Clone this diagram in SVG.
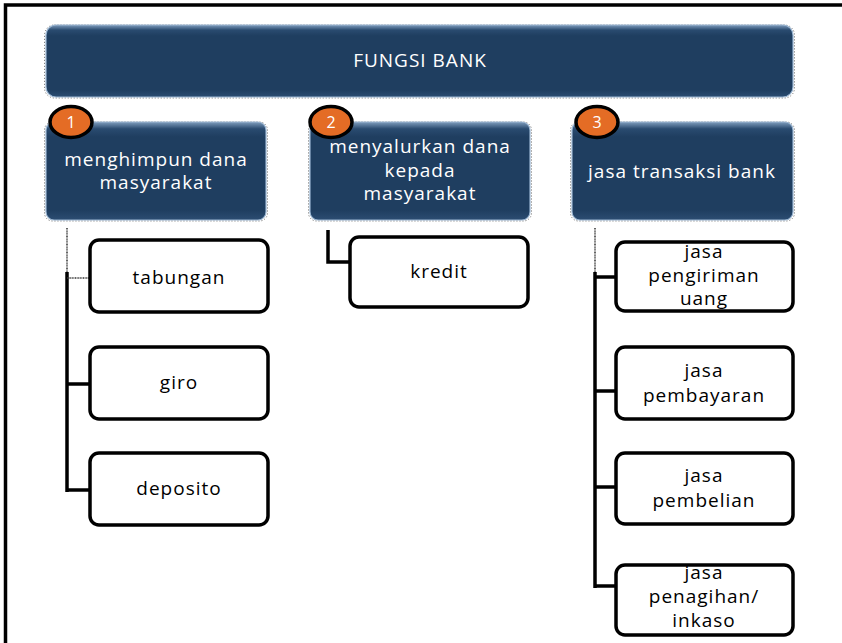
<svg xmlns="http://www.w3.org/2000/svg" width="842" height="643" viewBox="0 0 842 643">
<defs>
<linearGradient id="blueG" x1="0" y1="0" x2="0" y2="1">
<stop offset="0" stop-color="#7f9dbd"/>
<stop offset="0.07" stop-color="#2a4b70"/>
<stop offset="0.15" stop-color="#1f3e60"/>
<stop offset="0.9" stop-color="#1f3e60"/>
<stop offset="1" stop-color="#2c4d72"/>
</linearGradient>
<style>
.blue{fill:url(#blueG);stroke:#9bb6d2;stroke-width:1.2}
.dots{fill:none;stroke:#666;stroke-width:1;stroke-dasharray:1 2}
.wt{font-family:"Open Sans","Noto Sans","Liberation Sans",sans-serif;font-size:19px;fill:#ffffff;text-anchor:middle;letter-spacing:1px}
.badge{fill:#e46c25;stroke:#000;stroke-width:3.5}
.bn{font-family:"Open Sans","Noto Sans","Liberation Sans",sans-serif;font-size:16px;fill:#ffffff;text-anchor:middle}
.child{fill:#ffffff;stroke:#000;stroke-width:3.5}
.bt{font-family:"Open Sans","Noto Sans","Liberation Sans",sans-serif;font-size:19px;fill:#000;text-anchor:middle;letter-spacing:1px}
.conn{stroke:#000;stroke-width:3.5;fill:none}
.thin{stroke:#333;stroke-width:1.5;fill:none;stroke-dasharray:1 0.6}
</style>
</defs>
<rect x="0" y="0" width="842" height="643" fill="#ffffff"/>
<path d="M5.5 643 V5 H842" fill="none" stroke="#000" stroke-width="3.5"/>

<g id="connectors">
<path class="thin" d="M67 228 V272"/>
<path class="conn" d="M67 272 V492"/>
<path class="thin" d="M67 278 H90"/>
<path class="conn" d="M67 384 H90"/>
<path class="conn" d="M67 490 H90"/>
<path class="conn" d="M328 230 V262 H350"/>
<path class="thin" d="M595 228 V272"/>
<path class="conn" d="M595 272 V588"/>
<path class="conn" d="M595 277 H616"/>
<path class="conn" d="M595 391 H616"/>
<path class="conn" d="M595 487 H616"/>
<path class="conn" d="M595 586 H616"/>
</g>

<g id="fungsi-bank">
<rect class="dots" x="44.5" y="25" width="750" height="73" rx="10"/>
<rect class="blue" x="46" y="25" width="747" height="72" rx="10"/>
<text class="wt" x="420" y="67">FUNGSI BANK</text>
</g>

<g id="menghimpun">
<rect class="dots" x="44.5" y="122" width="223" height="99" rx="8"/>
<rect class="blue" x="46" y="122" width="220" height="98" rx="8"/>
<text class="wt" x="156" y="166">menghimpun dana</text>
<text class="wt" x="156" y="189">masyarakat</text>
<ellipse class="badge" cx="71" cy="122" rx="21" ry="15.5"/>
<text class="bn" x="71" y="128">1</text>
</g>

<g id="menyalurkan">
<rect class="dots" x="308.5" y="122" width="223" height="99" rx="8"/>
<rect class="blue" x="310" y="122" width="220" height="98" rx="8"/>
<text class="wt" x="420" y="153">menyalurkan dana</text>
<text class="wt" x="420" y="177">kepada</text>
<text class="wt" x="420" y="200">masyarakat</text>
<ellipse class="badge" cx="331" cy="122" rx="21" ry="15.5"/>
<text class="bn" x="331" y="128">2</text>
</g>

<g id="jasa-transaksi">
<rect class="dots" x="570.5" y="122" width="224" height="99" rx="8"/>
<rect class="blue" x="572" y="122" width="221" height="98" rx="8"/>
<text class="wt" x="682" y="178">jasa transaksi bank</text>
<ellipse class="badge" cx="597" cy="122" rx="21" ry="15.5"/>
<text class="bn" x="597" y="128">3</text>
</g>

<g id="tabungan">
<rect class="child" x="90" y="240" width="178" height="72" rx="9"/>
<text class="bt" x="179" y="284">tabungan</text>
</g>
<g id="giro">
<rect class="child" x="90" y="347" width="178" height="72" rx="9"/>
<text class="bt" x="179" y="389">giro</text>
</g>
<g id="deposito">
<rect class="child" x="90" y="453" width="178" height="72" rx="9"/>
<text class="bt" x="179" y="495">deposito</text>
</g>

<g id="kredit">
<rect class="child" x="350" y="237" width="178" height="70" rx="9"/>
<text class="bt" x="439" y="278">kredit</text>
</g>

<g id="pengiriman">
<rect class="child" x="616" y="242" width="177" height="69" rx="9"/>
<text class="bt" x="704" y="258">jasa</text>
<text class="bt" x="704" y="282">pengiriman</text>
<text class="bt" x="704" y="305">uang</text>
</g>
<g id="pembayaran">
<rect class="child" x="616" y="347" width="177" height="72" rx="9"/>
<text class="bt" x="704" y="377">jasa</text>
<text class="bt" x="704" y="402">pembayaran</text>
</g>
<g id="pembelian">
<rect class="child" x="616" y="453" width="177" height="71" rx="9"/>
<text class="bt" x="704" y="482">jasa</text>
<text class="bt" x="704" y="507">pembelian</text>
</g>
<g id="penagihan">
<rect class="child" x="616" y="565" width="177" height="70" rx="9"/>
<text class="bt" x="704" y="579">jasa</text>
<text class="bt" x="704" y="603">penagihan/</text>
<text class="bt" x="704" y="627">inkaso</text>
</g>
</svg>
